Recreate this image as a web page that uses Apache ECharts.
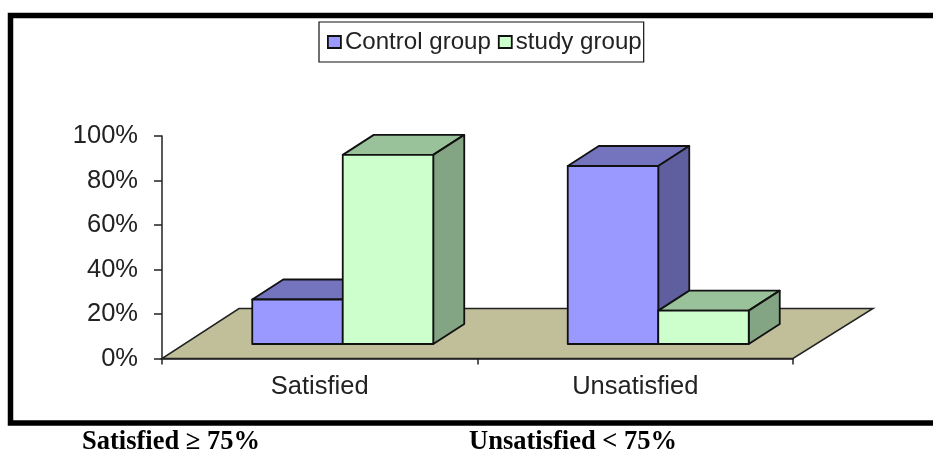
<!DOCTYPE html>
<html>
<head>
<meta charset="utf-8">
<style>
  html, body { margin: 0; padding: 0; background: #fff; }
  #chart { width: 933px; height: 451px; }
</style>
</head>
<body>
<div id="chart"></div>
<script src="https://cdn.jsdelivr.net/npm/echarts@6/dist/echarts.min.js"></script>
<script>
const categories = ['Satisfied', 'Unsatisfied'];
const controlValues = [20, 80];
const studyValues = [85, 15];
const yTicks = { min: 0, max: 100, interval: 20 };
const captionLeft = 'Satisfied ≥ 75%';
const captionRight = 'Unsatisfied < 75%';

// fake 3d: front of the bars sits partway back on the floor
const floorDepth = [80, -50];
const barShift = [23, -14.5];
const barDepth = [31, -20];
const barWidth = 90.5;

const chart = echarts.init(document.getElementById('chart'));

function poly(points, fill) {
  return {
    type: 'polygon',
    shape: { points: points },
    style: { fill: fill, stroke: '#111', lineWidth: 1.8, lineJoin: 'round' }
  };
}

function barRenderer(side, colors) {
  return function (params, api) {
    const cat = api.value(0);
    const base = api.coord([cat, 0]);
    const top = api.coord([cat, api.value(1)]);
    const x0 = base[0] + barShift[0] + (side < 0 ? -barWidth : 0);
    const x1 = x0 + barWidth;
    const y0 = base[1] + barShift[1];
    const y1 = top[1] + barShift[1];
    const dx = barDepth[0];
    const dy = barDepth[1];
    return {
      type: 'group',
      children: [
        poly([[x0, y1], [x1, y1], [x1 + dx, y1 + dy], [x0 + dx, y1 + dy]], colors.top),
        poly([[x1, y0], [x1 + dx, y0 + dy], [x1 + dx, y1 + dy], [x1, y1]], colors.side),
        poly([[x0, y0], [x1, y0], [x1, y1], [x0, y1]], colors.front)
      ]
    };
  };
}

function renderFloor(params) {
  const c = params.coordSys;
  const b = c.y + c.height;
  const r = c.x + c.width;
  const dx = floorDepth[0];
  const dy = floorDepth[1];
  return {
    type: 'polygon',
    shape: { points: [[c.x, b], [r, b], [r + dx, b + dy], [c.x + dx - 3, b + dy]] },
    style: { fill: '#C0BF9A', stroke: '#222', lineWidth: 1.5 }
  };
}

const blue = { front: '#9999FF', top: '#7474BE', side: '#5F5F9F' };
const green = { front: '#CCFFCC', top: '#9AC29A', side: '#84A584' };

chart.setOption({
  animation: false,
  backgroundColor: '#fff',
  textStyle: { fontFamily: 'Liberation Sans' },
  grid: { left: 162, top: 136, width: 631, height: 222.5, containLabel: false },
  legend: {
    left: 319,
    top: 22,
    padding: [8, 2, 8, 8],
    borderColor: '#111',
    borderWidth: 1.2,
    backgroundColor: '#fff',
    itemWidth: 13,
    itemHeight: 12,
    itemGap: 7,
    icon: 'rect',
    selectedMode: false,
    textStyle: { fontSize: 24.1, color: '#222', padding: [1, 0, 0, -1] },
    data: [
      { name: 'Control group', itemStyle: { color: blue.front, borderColor: '#111', borderWidth: 1.8 } },
      { name: 'study group', itemStyle: { color: green.front, borderColor: '#111', borderWidth: 1.8 } }
    ]
  },
  xAxis: {
    type: 'category',
    data: categories,
    axisLine: { lineStyle: { color: '#222', width: 1.5 } },
    axisTick: { show: true, length: 6, alignWithLabel: false, lineStyle: { color: '#222', width: 1.5 } },
    axisLabel: { fontSize: 25.5, color: '#222', margin: 15 }
  },
  yAxis: {
    type: 'value',
    min: yTicks.min,
    max: yTicks.max,
    interval: yTicks.interval,
    axisLine: { show: true, lineStyle: { color: '#222', width: 1.5 } },
    axisTick: { show: true, length: 8, lineStyle: { color: '#222', width: 1.5 } },
    splitLine: { show: false },
    axisLabel: { formatter: '{value}%', fontSize: 25.5, color: '#222', margin: 24 }
  },
  series: [
    {
      type: 'custom',
      silent: true,
      coordinateSystem: 'cartesian2d',
      renderItem: renderFloor,
      data: [[0, 0]],
      z: 1
    },
    {
      name: 'Control group',
      type: 'custom',
      coordinateSystem: 'cartesian2d',
      renderItem: barRenderer(-1, blue),
      encode: { x: 0, y: 1 },
      data: categories.map((c, i) => [i, controlValues[i]]),
      z: 2
    },
    {
      name: 'study group',
      type: 'custom',
      coordinateSystem: 'cartesian2d',
      renderItem: barRenderer(1, green),
      encode: { x: 0, y: 1 },
      data: categories.map((c, i) => [i, studyValues[i]]),
      z: 3
    }
  ],
  graphic: [
    {
      type: 'rect',
      shape: { x: 10.5, y: 15.5, width: 960, height: 407.5 },
      style: { fill: 'none', stroke: '#000', lineWidth: 5.5 },
      silent: true
    },
    {
      type: 'text',
      left: 82,
      top: 429,
      style: { text: captionLeft, font: 'bold 26.5px "Liberation Serif"', fill: '#000' }
    },
    {
      type: 'text',
      left: 469,
      top: 429,
      style: { text: captionRight, font: 'bold 26.5px "Liberation Serif"', fill: '#000' }
    }
  ]
});
</script>
</body>
</html>
